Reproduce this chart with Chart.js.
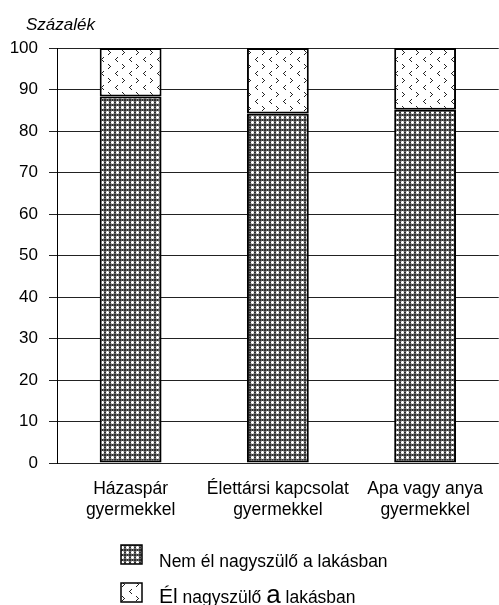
<!DOCTYPE html>
<html>
<head>
<meta charset="utf-8">
<script src="https://cdn.jsdelivr.net/npm/chart.js@4/dist/chart.umd.min.js"></script>
<style>
html,body{margin:0;padding:0;background:#fff;}
#wrap{width:499px;height:605px;position:relative;}
</style>
</head>
<body>
<div id="wrap"><canvas id="c" width="499" height="605"></canvas></div>
<script>
const categories = [["Házaspár","gyermekkel"],["Élettársi kapcsolat","gyermekkel"],["Apa vagy anya","gyermekkel"]];
const seriesNames = ["Nem él nagyszülő a lakásban","Él nagyszülő a lakásban"];
const nemEl = [88.3, 84.2, 85.1];
const el = [11.7, 15.8, 14.9];
const yTicks = [0,10,20,30,40,50,60,70,80,90,100];
const yTitle = "Százalék";

const FONT = "'Liberation Sans', Arial, sans-serif";

function densePattern(ctx){
  const t=document.createElement('canvas'); t.width=5; t.height=5;
  const c=t.getContext('2d');
  const m=["DGDGD","GLWLG","DWWWD","GLWLG","DGDGD"];
  const col={D:'#2e2e2e',G:'#6a6a6a',L:'#bcbcbc',W:'#ffffff'};
  for(let y=0;y<5;y++)for(let x=0;x<5;x++){c.fillStyle=col[m[y][x]];c.fillRect(x,y,1,1);}
  return ctx.createPattern(t,'repeat');
}
function sparsePattern(ctx){
  const t=document.createElement('canvas'); t.width=14; t.height=14;
  const c=t.getContext('2d');
  c.fillStyle='#fff'; c.fillRect(0,0,14,14);
  c.fillStyle='#222';
  const lt=[[2,0],[1,1],[0,2],[1,3],[2,4]];
  const gt=[[0,0],[1,1],[2,2],[1,3],[0,4]];
  lt.forEach(p=>c.fillRect(3+p[0],1+p[1],1,1));
  gt.forEach(p=>c.fillRect(10+p[0],8+p[1],1,1));
  return ctx.createPattern(t,'repeat');
}

const canvas=document.getElementById('c');
const ctx=canvas.getContext('2d');
const patDense=densePattern(ctx);
const patSparse=sparsePattern(ctx);

const extras={
  id:'extras',
  afterDraw(chart){
    const c=chart.ctx;
    c.save();
    c.fillStyle='#000';
    c.textBaseline='alphabetic';
    c.textAlign='left';
    c.font="italic 17px "+FONT;
    c.fillText(yTitle,26,30);
    const boxes=[{y:545,pat:patDense},{y:583,pat:patSparse}];
    boxes.forEach(b=>{
      c.fillStyle=b.pat;
      c.fillRect(121,b.y,21,19);
      c.lineWidth=1.5; c.strokeStyle='#000';
      c.strokeRect(121,b.y,21,19);
    });
    c.fillStyle='#000';
    c.font="17.5px "+FONT;
    c.fillText(seriesNames[0],159,567);
    const words=seriesNames[1].split(' ');
    const sizes=[21,17.5,26,17.5];
    let x=159;
    words.forEach((w,i)=>{
      c.font=sizes[i]+"px "+FONT;
      c.fillText(w,x,603);
      x+=c.measureText(w).width;
      c.font="17.5px "+FONT;
      x+=c.measureText(' ').width;
    });
    c.restore();
  }
};

new Chart(ctx,{
  type:'bar',
  data:{
    labels:categories,
    datasets:[
      {label:seriesNames[0],data:nemEl,backgroundColor:patDense,borderColor:'#000',borderWidth:2,borderSkipped:false,barPercentage:0.42,categoryPercentage:1},
      {label:seriesNames[1],data:el,backgroundColor:patSparse,borderColor:'#000',borderWidth:2,borderSkipped:false,barPercentage:0.42,categoryPercentage:1}
    ]
  },
  options:{
    responsive:false,
    animation:false,
    devicePixelRatio:1,
    layout:{padding:{top:48,left:0,right:0,bottom:0}},
    plugins:{legend:{display:false},tooltip:{enabled:false},title:{display:false}},
    scales:{
      x:{
        stacked:true,
        grid:{display:false,drawTicks:false},
        border:{display:false},
        ticks:{color:'#000',font:{family:FONT,size:17.5,lineHeight:1.2},padding:16,maxRotation:0,autoSkip:false},
        afterFit(s){s.height=142;}
      },
      y:{
        stacked:true,
        min:0,max:100,
        afterBuildTicks(s){s.ticks=yTicks.map(v=>({value:v}));},
        grid:{color:'#222',lineWidth:1,tickLength:8,drawTicks:true,tickColor:'#222'},
        border:{display:true,color:'#000',width:1},
        ticks:{color:'#000',font:{family:FONT,size:17},padding:11},
        afterFit(s){s.width=57;}
      }
    }
  },
  plugins:[extras]
});
</script>
</body>
</html>
